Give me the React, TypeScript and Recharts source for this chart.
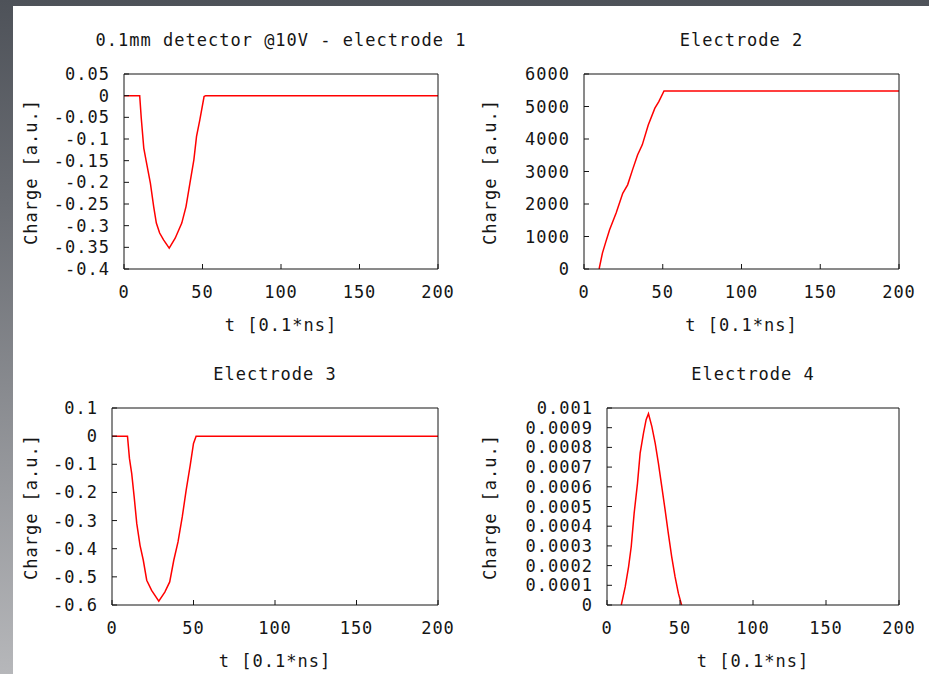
import { Line, LineChart, XAxis, YAxis } from 'recharts';

const FONT = '"DejaVu Sans Mono", monospace';
const INK = '#151515';

const timeTicks = [0, 50, 100, 150, 200];

// electrode 1
const e1Time = [0, 10, 11, 12.6, 14.2, 16.8, 18.9, 20.6, 22.7, 25.2, 28.8, 32.6, 36.8, 39.5, 42, 44.5, 46.2, 48.3, 51, 52, 200];
const e1Charge = [0, 0, -0.052, -0.121, -0.152, -0.202, -0.256, -0.294, -0.317, -0.333, -0.352, -0.329, -0.294, -0.256, -0.202, -0.148, -0.094, -0.056, -0.002, 0, 0];
const e1Ticks = [0.05, 0, -0.05, -0.1, -0.15, -0.2, -0.25, -0.3, -0.35, -0.4];

// electrode 2
const e2Time = [9.6, 11.7, 13.75, 16.25, 20.4, 24.6, 27.7, 30.8, 34, 37, 40.8, 45, 47.5, 50.8, 200];
const e2Charge = [0, 490, 820, 1210, 1720, 2330, 2590, 3050, 3510, 3820, 4430, 4950, 5150, 5480, 5480];
const e2Ticks = [0, 1000, 2000, 3000, 4000, 5000, 6000];

// electrode 3
const e3Time = [0, 9.5, 10.7, 12.1, 13.6, 15.2, 17.2, 19.2, 21.3, 24.3, 28.7, 32.4, 35.4, 37.9, 40.5, 43.1, 45.5, 48, 50, 51.6, 200];
const e3Charge = [0, 0, -0.079, -0.133, -0.216, -0.311, -0.388, -0.441, -0.512, -0.548, -0.586, -0.554, -0.518, -0.441, -0.376, -0.287, -0.192, -0.103, -0.026, 0, 0];
const e3Ticks = [0.1, 0, -0.1, -0.2, -0.3, -0.4, -0.5, -0.6];

// electrode 4
const e4Time = [9.8, 12.5, 14.8, 16.6, 18.6, 20.9, 22.7, 25, 26.8, 28.4, 30.7, 33, 35.2, 37.5, 39.8, 42, 44.3, 46.6, 48.9, 51.1];
const e4Charge = [0, 0.000093, 0.000195, 0.000297, 0.000466, 0.000619, 0.000771, 0.000873, 0.000941, 0.000971, 0.000907, 0.000822, 0.00072, 0.000602, 0.000483, 0.000364, 0.000246, 0.000144, 0.000059, 0];
const e4Ticks = [0, 0.0001, 0.0002, 0.0003, 0.0004, 0.0005, 0.0006, 0.0007, 0.0008, 0.0009, 0.001];

const toRows = (ts: number[], qs: number[]) => ts.map((t, i) => ({ t, q: qs[i] }));

type PanelProps = {
  title: string;
  data: { t: number; q: number }[];
  yTicks: number[];
  left: number;
  top: number;
  plotW: number;
  plotH: number;
  yLabelX: number;
};

const textStyle = {
  position: 'absolute' as const,
  fontFamily: FONT,
  fontSize: 17,
  letterSpacing: 1,
  color: INK,
  lineHeight: '20px',
  textAlign: 'center' as const,
  whiteSpace: 'pre' as const,
};

function Panel({ title, data, yTicks, left, top, plotW, plotH, yLabelX }: PanelProps) {
  const yw = 110;
  const th = 10;
  const rw = 30;
  const xh = 40;
  const yDomain = [Math.min(...yTicks), Math.max(...yTicks)];
  const tickFont = { fill: INK, fontSize: 17, fontFamily: FONT };
  const cx = left + plotW / 2;
  return (
    <>
      <div style={{ position: 'absolute', left: left - yw, top: top - th, letterSpacing: 1 }}>
        <LineChart
          width={plotW + yw + rw}
          height={plotH + th + xh}
          data={data}
          margin={{ top: 0, right: 0, bottom: 0, left: 0 }}
        >
          <XAxis
            dataKey="t"
            type="number"
            domain={[0, 200]}
            ticks={timeTicks}
            interval={0}
            allowDataOverflow
            height={xh}
            stroke={INK}
            tickSize={-5}
            tickMargin={22}
            tick={tickFont}
          />
          <XAxis
            xAxisId="top"
            orientation="top"
            dataKey="t"
            type="number"
            domain={[0, 200]}
            ticks={timeTicks}
            interval={0}
            allowDataOverflow
            height={th}
            stroke={INK}
            tickSize={-5}
            tick={false}
          />
          <YAxis
            type="number"
            domain={yDomain}
            ticks={yTicks}
            interval={0}
            allowDataOverflow
            width={yw}
            stroke={INK}
            tickSize={-5}
            tickMargin={19}
            tick={tickFont}
            tickFormatter={(v: number) => String(v)}
          />
          <YAxis
            yAxisId="right"
            orientation="right"
            type="number"
            domain={yDomain}
            ticks={yTicks}
            interval={0}
            allowDataOverflow
            width={rw}
            stroke={INK}
            tickSize={-5}
            tick={false}
          />
          <Line
            type="linear"
            dataKey="q"
            stroke="#ff0000"
            strokeWidth={1.5}
            dot={false}
            isAnimationActive={false}
          />
        </LineChart>
      </div>
      <div style={{ ...textStyle, left: cx - 250, width: 500, top: top - 44 }}>{title}</div>
      <div style={{ ...textStyle, left: cx - 150, width: 300, top: top + plotH + 46 }}>t [0.1*ns]</div>
      <div
        style={{
          ...textStyle,
          left: yLabelX - 100,
          width: 200,
          top: top + plotH / 2 - 10,
          transform: 'rotate(-90deg)',
        }}
      >
        Charge [a.u.]
      </div>
    </>
  );
}

export default function App() {
  return (
    <div
      style={{
        position: 'absolute',
        left: 0,
        top: 0,
        width: 929,
        height: 674,
        overflow: 'hidden',
        background: 'linear-gradient(to bottom, #4e5259, #6a6d73 30%, #b6b7ba)',
      }}
    >
      <div style={{ position: 'absolute', left: 13, top: 6, right: 0, bottom: 0, background: '#ffffff' }} />
      <Panel
        title="0.1mm detector @10V - electrode 1"
        data={toRows(e1Time, e1Charge)}
        yTicks={e1Ticks}
        left={124}
        top={74}
        plotW={314}
        plotH={195}
        yLabelX={31}
      />
      <Panel
        title="Electrode 2"
        data={toRows(e2Time, e2Charge)}
        yTicks={e2Ticks}
        left={584}
        top={74}
        plotW={315}
        plotH={195}
        yLabelX={490}
      />
      <Panel
        title="Electrode 3"
        data={toRows(e3Time, e3Charge)}
        yTicks={e3Ticks}
        left={112}
        top={408}
        plotW={326}
        plotH={197}
        yLabelX={31}
      />
      <Panel
        title="Electrode 4"
        data={toRows(e4Time, e4Charge)}
        yTicks={e4Ticks}
        left={607}
        top={408}
        plotW={292}
        plotH={197}
        yLabelX={490}
      />
    </div>
  );
}
